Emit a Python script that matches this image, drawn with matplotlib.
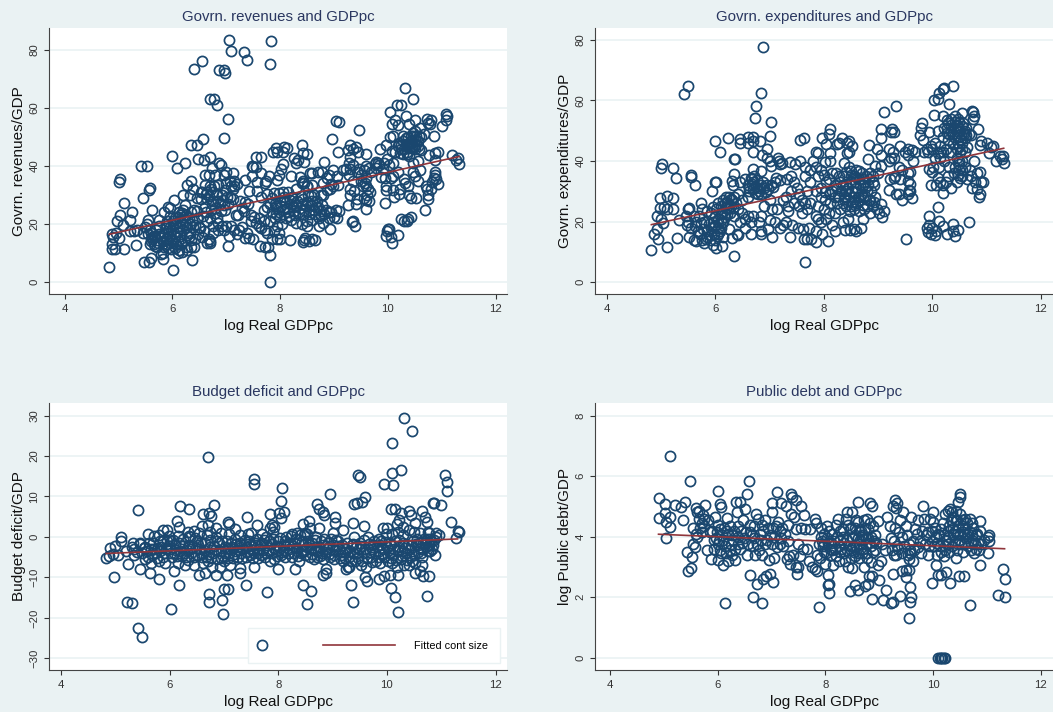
import matplotlib
matplotlib.use('Agg')
import matplotlib.pyplot as plt
from matplotlib.legend_handler import HandlerLine2D
from matplotlib.lines import Line2D

plt.rcParams['font.family'] = ['Liberation Sans', 'DejaVu Sans']

# values, (log gdp, y)
revenue_points = [
    (7.05,83.4),(7.83,83.2),(7.09,79.6),(7.33,79.4),(7.39,76.5),(6.55,76.2),(6.41,73.5),(7.81,75.1),(6.87,73),(6.96,73.1),(6.98,72),
    (6.69,63),(6.78,63),(6.83,61),(7.03,56.4),(6.95,49.6),(6.56,49.5),(6.35,47.3),(6.46,47.4),(6.0,43.6),(6.47,42.6),(6.59,42),(6.69,43.2),
    (6.23,41),(6.09,39.2),(5.41,40),(5.53,40.1),(5.02,35.5),(5.01,34.6),(6.35,34.8),(6.28,33.4),(5.58,32.4),(5.57,31.7),(5.45,29),(5.11,27.4),
    (5.25,24.3),(5.63,24.8),(5.22,21.5),(5.02,23.1),(4.97,21),(5.08,19.7),(4.83,5.2),(4.87,13.2),(4.87,11.3),(4.94,11.5),(5.11,11.3),(5.33,12.8),
    (5.48,7.1),(5.56,6.9),(5.6,8.4),(5.82,7.9),(6.01,4.3),(6.36,7.6),(7.81,0),(7.81,9.2),(7.63,12.5),(7.72,12.2),(7.78,12),(7.03,12.3),(8.19,14.4),
    (4.9,15.5),(4.95,17),(5.0,15.3),(4.87,16.5),
    (10.32,66.8),(10.47,63.1),(10.25,61.2),(10.16,61),(10.04,58.6),(10.14,56),(10.07,54.6),(10.33,57.2),(10.5,56),(10.4,54.6),(10.18,54),(10.6,53),
    (10.5,52),(10.73,56.4),(10.8,56),(10.75,55),(10.78,54.5),(11.08,57.8),(11.1,57.3),(11.08,56),(11.0,53.7),(10.85,50.5),(10.67,51),(10.62,50),
    (10.09,50.2),(10.03,50.1),(10.28,50.5),(10.46,50.2),(10.55,48.6),(10.5,49),(10.42,48.5),(10.38,50),(10.34,47.6),(10.3,46),(10.2,48),(10.18,47),
    (10.13,45),(10.22,44.5),(10.28,44),(10.35,45),(10.44,46.3),(10.58,46),(10.48,46.5),(10.52,47.5),(10.62,45.7),(10.77,43.7),(10.87,44.5),(10.93,45),
    (11.18,43.7),(11.3,42.8),(11.27,42),(11.32,40.6),(10.87,42),(10.46,41),(10.56,41.8),(9.97,47.2),(9.86,46),(10.07,45.2),(9.99,42.5),(10.02,40.2),
    (9.9,39),(9.78,41.5),(9.82,41.2),(9.76,40.8),(9.87,36.3),(10.1,41),(10.18,38),(10.1,36.5),(10.05,36),(9.95,35.8),(9.97,33),(9.96,31.6),(9.95,27.4),
    (10.1,31.8),(10.12,29.3),(10.2,30.5),(10.22,32),(10.32,34),(10.3,35.5),(10.38,33),(10.4,30),(10.42,29),(10.52,28.9),(10.47,38),(10.5,36.5),(10.55,35),
    (10.6,38.5),(10.7,33),(10.73,32),(10.75,30),(10.74,28.6),(10.8,32),(10.82,34.5),(10.87,37),(10.88,38),(10.9,35.5),(10.93,33.8),(10.85,36),(10.68,24.8),
    (10.24,21.8),(10.3,21),(10.35,21),(10.38,21.8),(10.42,22.5),(9.97,15.8),(9.99,17.5),(10.0,18.3),(10.02,18.2),(10.05,15.5),(10.07,13.6),(10.19,16.3),
    (9.07,44.7),(9.04,55.6),(9.1,55.2),(8.96,49.5),(9.47,52.6),(9.6,44.2),(9.3,47.4),(9.4,46.5),(9.25,45.6),(9.35,46),(9.45,45),(9.3,43),(9.27,41),(9.23,39),
    (9.17,38.5),(9.28,37),(9.35,35),(9.3,32),(9.37,31.5),(9.3,30.2),(9.26,26.6),(9.35,21),(9.33,20.8),(9.39,19.4),(9.55,29),(9.6,25.2),(9.6,28.3),(9.65,28),
    (9.63,32),(9.6,33),(9.57,34),(9.66,31),(9.6,36),(9.55,38.5),(9.65,39.5),(9.5,37),(9.47,39),(9.6,40),(9.43,28.5),(9.4,27),(9.1,24.5),(9.0,22.5),(8.93,18.3),
    (8.95,24),(9.04,24.8),(9.06,22),(8.9,37),(8.98,38.8),(9.05,36.5),(9.08,33.5),(8.98,33),(8.93,32),(8.8,30),(8.82,41.5),(8.7,38),(8.78,38),(8.87,36),(8.8,34),
    (8.75,24.5),(8.85,25),(8.9,22),(8.9,24),(8.8,20.5),(8.72,19.5),(8.6,37.6),(8.55,37.5),(8.5,33),(8.62,30),(8.67,26),
    (8.4,47.3),(8.42,44.6),(8.5,44.2),(8.45,41.4),(8.08,46.5),(8.12,46.4),(8.05,45),(7.93,46.1),(7.87,45),(7.95,44.7),(8.25,42.7),(8.3,41),(8.33,42.2),(8.05,40.6),
    (8.02,39),(7.98,37),(7.95,35.2),(8.2,36.5),(8.37,36.3),(8.42,35),(8.45,34.3),(8.4,34),(8.5,33),(8.3,32),(8.15,31),(8.05,31),(7.97,30.8),(7.88,30.6),(7.85,29),
    (8.0,28),(8.1,27.5),(8.2,27),(8.3,26.5),(8.4,27),(8.5,27.5),(8.6,28),(8.55,25),(8.45,25),(8.35,24.3),(8.25,24.5),(8.15,24),(8.05,25),(7.95,25.5),(7.85,24),
    (7.9,22),(8.0,22.5),(8.1,22),(8.2,21.5),(8.3,20.5),(8.4,20),(8.5,21),(8.5,19.2),(8.6,21.5),(8.65,23.5),(8.75,23),(8.7,26),(8.75,30),(8.6,33.5),(7.95,19.5),
    (8.03,20),(7.98,17),(7.88,17.5),(7.85,14.7),(7.95,14.8),(8.0,15),(8.42,13.7),(8.47,15.2),(8.53,14),(8.6,14.8),(8.65,14.4),(8.45,14.5),
    (7.56,43),(7.64,43.3),(7.47,40),(7.5,39.7),(7.55,39.7),(7.35,35.3),(7.47,36.5),(7.57,34.5),(7.65,37.5),(7.8,36.5),(7.73,35),(7.72,34),(7.43,31.5),(7.57,31.4),
    (7.65,29.5),(7.75,30.5),(7.35,27.5),(7.25,28),(7.4,27),(7.3,25.5),(7.33,24.5),(7.22,23),(7.45,23),(7.52,22.5),(7.6,22),(7.55,20.5),(7.45,21),(7.3,19),(7.23,18),
    (7.38,17),(7.35,15.3),(7.42,15.3),(7.5,14.8),(7.6,19.5),(7.65,18.5),(7.72,18),(7.75,17),(7.7,21),(7.76,26),(7.7,25),(7.82,21),(7.82,27),(7.9,27),
    (6.87,41),(6.9,40.3),(6.73,39.5),(7.0,38),(6.95,37),(6.8,36.8),(6.68,37),(6.6,37),(7.13,37.5),(7.15,35),(7.2,33.8),(7.15,33),(7.07,35),(7.0,34),(6.85,33.5),
    (6.78,33),(6.7,33),(6.65,31),(6.55,31),(6.62,30.5),(6.75,31),(6.82,30.5),(6.92,30),(7.02,29.5),(7.07,29.5),(7.13,28.5),(7.03,27),(6.95,26.5),(6.85,28),(6.75,28),
    (6.65,28.5),(6.53,28.5),(6.6,26),(6.72,25),(6.8,25.5),(6.9,24.5),(6.97,25),(6.82,22),(6.7,22),(6.65,21),(6.75,19.5),(6.85,20.5),(6.92,19.5),(7.0,19.5),(7.08,19.3),
    (7.15,18),(7.2,16.5),(7.05,16),(6.95,17.8),(6.85,18),(6.75,17),(6.68,15),(6.65,13.5),(6.7,14),(6.7,13.5),(6.55,15.5),(6.58,17.7),(6.52,18.7),(7.18,23),
    (5.6,14),(5.62,15.5),(5.55,16.5),(5.58,18),(5.52,20),(5.55,21.5),(5.5,19),(5.45,17),(5.35,18),(5.28,17.5),(5.22,17.5),(5.65,13),(5.68,12.5),(5.72,14.5),(5.75,16.5),
    (5.7,18),(5.75,19.5),(5.75,21.3),(5.85,24),(5.92,26),(5.95,25.5),(6.03,28.4),(5.8,16),(5.82,14),(5.85,12),(5.82,10),(5.78,9.8),(5.88,15),(5.92,17),(5.95,19),
    (5.95,13.5),(5.98,11.5),(6.0,15),(6.03,17),(6.05,20),(6.05,22),(6.12,24),(6.15,23),(6.2,25),(6.23,26.5),(6.2,30),(6.33,30),(6.38,32),(6.1,14),(6.12,11),(6.1,10),
    (6.18,10.4),(6.25,12),(6.28,11),(6.35,12),(6.4,12),(6.35,14.5),(6.42,15),(6.15,16),(6.2,18),(6.25,20),(6.3,22),(6.35,24),(6.4,25),(6.45,24.5),(6.45,22),(6.38,19),
    (6.33,17),(6.3,15.5),(6.5,19),(6.47,16.5),(6.45,29),(6.53,31),(5.9,21),(5.65,16),(5.6,17),(5.72,12),(6.08,19),(6.15,21),(6.02,14),(6.07,13),(5.9,13),
    # thicker parts of the cloud
    (5.58,13.2),(5.63,14.8),(5.68,15.6),(5.73,13.4),(5.78,15.1),(5.84,16.8),(5.89,18.6),(5.93,15.8),(5.97,17.9),(6.01,19.6),(6.04,15.9),(6.09,17.2),(6.13,18.7),(6.17,20.3),(6.22,22.4),
    (6.11,22.6),(6.18,23.8),(6.25,23.1),(6.02,21.2),(5.96,22.7),(5.88,19.9),(6.27,18.9),(6.32,19.9),(6.37,21.4),(6.42,19.6),(6.28,16.4),(6.22,14.6),(6.16,13.3),(5.92,11.7),(6.05,11.9),
    (6.6,33.6),(6.68,29.6),(6.73,26.8),(6.8,23.7),(6.88,26.9),(6.93,28.2),(7.08,33.2),(7.12,32.1),(6.97,31.6),(6.72,32),(6.63,24.2),(6.57,22.9),
    (7.93,26.4),(7.98,24.1),(8.02,26.2),(8.07,28.3),(8.12,25.4),(8.17,22.9),(8.18,28.4),(8.23,25.8),(8.27,23.2),(8.32,28.1),(8.37,25.7),(8.42,23.5),(8.43,28.7),(8.48,26.2),(8.53,23.6),
    (8.57,26.6),(8.58,29.6),(8.63,24.8),(8.68,28.1),(8.52,30.1),(8.38,29.7),(8.22,29.2),(8.08,29.5),(7.92,23.4),(8.72,22.1),(8.82,23.4),(8.78,26.6),(8.87,31.7),(8.95,33.8),
    (10.25,47.2),(10.28,48.7),(10.33,49.6),(10.37,47.3),(10.4,46.2),(10.43,50.2),(10.45,48),(10.47,51.5),(10.5,45.8),(10.53,50.5),(10.56,47),(10.58,50.3),(10.36,44),(10.24,46),(10.4,43.5),
    (9.3,39),(9.35,40.5),(9.42,38),(9.5,35),(9.54,33),(9.62,30),(9.68,38),(9.78,39.5),(9.84,40.3),(9.92,41),
]

expenditure_points = [
    (6.88,77.5),(5.5,64.8),(5.42,62.2),(6.84,62.6),(6.75,58),(6.73,54.2),(7.03,53),(9.12,56.3),(9.33,58.1),(10.38,64.6),(10.22,64.2),(10.2,63.7),(10.13,62.3),(10.1,60.5),
    (10.04,60.2),(10.32,58.7),(10.04,55.2),(10.2,55),(9.82,52.6),(9.8,51),(9.78,48.5),(9.83,47),(9.05,50.5),(9.05,47.7),(9.26,50.6),(9.25,49.5),(9.3,49.6),(8.12,50.4),
    (8.1,49),(7.96,47.5),(7.64,47.6),(7.57,47),(8.05,45.6),(8.25,45.5),(8.28,45.8),(8.33,47.5),(8.43,46),(8.47,46.5),(8.52,45),(8.47,43),(8.43,42.6),(8.83,45.2),(8.98,44),
    (9.05,42),(8.82,40.6),(7.85,43),(7.9,42.8),(8.12,42.6),(6.0,46.5),(6.08,43),(6.23,47.5),(6.45,47.2),(6.6,48),(6.7,48),(6.45,46),(6.6,45.8),(6.7,46.6),(6.83,46.5),
    (7.0,48.2),(6.95,44),(6.7,43),(6.35,40.5),(6.37,40.7),(5.02,39),(5.0,37.7),(5.22,37.8),(5.28,34.5),(5.55,35.4),(5.55,34.8),(5.62,32),(6.0,33),(6.02,33),(5.93,30),
    (6.3,33.5),(6.35,35.7),(6.32,32),(6.87,42),(6.95,41),(7.0,40),(7.02,38.2),(7.15,41),(7.2,39),(7.18,40),(7.23,39.2),(6.7,37.3),(6.85,36.8),(7.12,34.5),(7.2,33.8),
    (7.1,33),(7.38,39.7),(7.47,39),(7.57,40),(7.8,40),(7.65,38),(7.75,37),(7.85,38),(7.95,37),(8.03,39.7),(8.12,40),(8.15,36),(8.23,36),(8.38,39.3),(8.47,38),(8.5,35.3),
    (4.82,10.7),(4.87,16),(4.92,17.5),(4.95,14.3),(5.1,11.5),(5.3,14.5),(4.92,21.7),(5.0,20.8),(5.03,19.4),(4.98,24.4),(4.98,27.7),(5.05,24.7),(5.1,24),(5.1,28.5),(5.22,27.8),
    (5.22,24.3),(5.33,20.5),(5.45,22),(5.5,24.3),(5.52,24.5),(6.35,8.5),(7.65,6.8),(9.52,14.1),
    (9.95,21.8),(9.95,19),(9.9,18),(9.92,16.5),(9.97,16),(10,18),(10.05,15.5),(10.07,17),(10.1,24.7),(10.12,20.3),(10.2,18.5),(10.27,16),(10.38,16.8),(10.38,19.3),(10.42,15.3),
    (10.47,17.3),(10.68,19.9),(9.97,32.2),(10.85,50.5),(10.73,56.5),(10.75,56.2),(10.77,55),(10.75,54),(10.55,56),(10.42,55),(10.5,53),(10.48,54),(10.35,54),(10.28,53.5),
    (10.55,51.5),(10.62,51),(10.68,49),(10.72,48.5),(10.9,46.5),(10.88,45.2),(11.02,46),(11.12,45),(11.08,44.5),(11.05,42.5),(11.3,41.5),(11.25,41.8),(11.28,40.5),(11.17,40),
    (11.32,39.5),(10.78,40),(10.7,37),(10.88,36.5),(10.82,36),(10.72,35),(10.65,34),(10.8,33),(10.9,33),(10.93,33),(10.73,31),(10.82,30.8),(10.88,29.2),(10.87,28),(10.5,45),
    (10.6,43),(10.45,41),(10.35,43),(10.25,44),(10.15,45),(10.05,46),(10,44),(9.95,49.5),(9.93,43),(9.85,43),(10.1,50),(10.2,48),(10.3,47),(10.4,48),(10.5,48),(10.6,47.5),
    (10.35,50),(10.45,50),(10.55,40),(10.5,37),(10.55,35),(10.4,36),(10.45,33),(10.3,35),(10.35,31),(10.25,33),(10.2,32),(10.1,34.5),(10.15,33),(10.07,32),(10.2,29.5),(10.32,38),
    (10.22,40),(10.12,38),(10.02,38),(9.95,37.5),(10,36.5),(10.05,41),(10.15,41),(10.6,38),(10.5,40),(10.65,44.5),(10.42,51),(10.52,50),(10.58,49),(10.47,46),(10.38,45.5),
    (9.4,45),(9.55,44),(9.62,43.5),(9.68,43),(9.5,43),(9.55,42),(9.65,40),(9.2,44),(9.28,43),(9.25,41),(9.2,40),(9.3,41),(9.38,38),(9.45,37),(9.55,36),(9.6,36.5),(9.22,34),
    (9.3,34.5),(9.32,35),(9.4,34),(9.2,30.5),(9.33,29),(9.38,29),(9.45,27),(9.55,29),(9.6,30),(9.6,32.5),(9.55,33.5),(9.62,27.8),(9.57,30.5),(9.02,23),(9.08,21.5),(9.12,23.5),
    (9.05,25.8),(8.98,24),(9,36),(9.05,38.5),(8.95,38.5),(8.9,35),
    (8.2,28),(8.25,31),(8.3,33),(8.35,35),(8.4,30),(8.45,27),(8.5,25),(8.55,28),(8.6,31),(8.65,34),(8.7,36),(8.75,33),(8.8,30),(8.85,27),(8.9,25),(8.95,28),(8.6,37),(8.55,35),
    (8.5,33),(8.45,31),(8.4,28),(8.35,26),(8.3,24),(8.25,26),(8.62,26),(8.68,29),(8.72,32),(8.78,35),(8.82,32),(8.88,30),(8.92,32),(8.52,30),(8.58,33),(8.42,25),(8.48,23.5),
    (8.55,24),(8.65,23.5),(8.75,24),(8.8,25),(8.85,23),(8.72,21),(8.68,18),(8.6,17),(8.55,17.5),(8.48,17.3),(8.4,17.2),(8.35,20),(8.45,21),(8.2,17),(8.15,19),(8.08,13.6),(7.97,16),
    (7.85,13.4),(7.7,14.3),(7.77,14.3),(7.63,14.3),(7.95,20),(8.05,21),(8.1,23),(8.2,23),(8.0,24),(7.9,25),(8.03,27),(8.12,29),(7.95,31),(8.05,33),(7.9,35),(8.0,35.3),(8.1,34),
    (8.2,32),(7.85,30),(7.95,28),(7.75,33),(7.65,35),(7.7,30),(7.6,27),(7.55,29),(7.5,31),(7.45,33),(7.4,35),(7.33,34),(7.4,30),(7.3,28),(7.25,27),(7.35,25),(7.45,26),(7.55,25),
    (7.65,26),(7.75,26),(7.85,22),(7.7,24),(7.6,23),(7.35,23.5),(7.42,19),(7.3,20),(7.25,19),(7.2,18),(7.37,14.8),(7.52,18),(7.62,17.5),(7.72,18),(7.85,17),(7.9,21),
    (6.55,34),(6.65,34.5),(6.7,33),(6.75,31.5),(6.8,30),(6.85,32),(6.9,31),(6.95,32),(7.02,32),(7.07,31.5),(6.62,31),(6.72,35),(6.78,29),(6.6,28),(6.5,27),(6.45,33),(6.42,29),
    (6.35,28),(6.3,27),(6.25,28),(6.2,28),(6.15,27),(6.1,25),(6.05,26),(6.5,23),(6.55,21),(6.6,22),(6.7,22),(6.65,20),(6.8,20),(6.85,22),(6.9,25),(7,27),(7.05,24),(7.13,24),(7,20.5),
    (7.1,20),(7.05,15),(6.97,17.5),(6.85,15.8),(6.85,17),(6.65,15.8),(6.4,16),(6.42,15.5),(6.3,14.5),(6.25,17.5),(6.45,20),(6.55,18),(6.35,22),(6.27,23),(6.2,24.5),(6.12,23),
    (6.05,21),(6.0,22),(5.95,20),(5.92,18),(5.85,17),(5.8,20),(5.75,24),(5.73,26),(5.85,23.5),(5.7,22),(5.65,20),(5.6,22),(5.55,18),(5.5,20),(5.48,19),(5.52,15),(5.6,14),(5.65,13.5),
    (5.72,16),(5.75,14),(5.8,13),(5.85,15),(5.9,14),(5.95,12.3),(6.0,14),(6.02,11.2),(6.05,16),(6.1,18),(6.13,12),(6.15,15),(6.05,18),(6.0,19),(6.1,20.5),(6.15,20),(5.98,16),
    # thicker parts of the cloud
    (5.62,18.4),(5.68,16.8),(5.74,19.6),(5.78,17.5),(5.83,14.4),(5.88,19.2),(5.92,15.7),(5.97,18.2),(6.03,15.2),(6.08,17),(6.12,19.6),(6.18,21.6),(6.22,22.4),(6.28,25),(6.33,24.6),
    (6.18,26),(6.24,24),(6.1,22.4),(6.02,24),(5.92,22.8),(5.96,24.7),(6.22,26.4),(6.28,27.4),(6.38,26),(6.42,24.2),
    (6.62,30),(6.67,32.4),(6.7,30.6),(6.73,29.5),(6.77,33.6),(6.82,31),(6.84,29.2),(6.88,33),(6.93,29.8),(6.97,30.6),(6.67,34.2),(6.6,32.2),
    (8.27,28.6),(8.32,30),(8.37,27.5),(8.42,32.5),(8.47,29),(8.52,26.6),(8.57,29.8),(8.63,28),(8.67,32),(8.7,34),(8.73,28),(8.77,31),(8.83,34),(8.86,36),(8.9,33),(8.6,34.6),(8.65,36.6),
    (8.5,36.8),(8.42,36.4),(8.58,25.4),(8.65,27),(8.72,25.5),(8.77,28.6),(8.83,27),(8.93,26.6),(8.35,32),(8.28,35),(8.15,30),(8.12,26),(8.02,29.7),
    (10.27,51),(10.3,52.5),(10.35,52),(10.38,49),(10.42,53),(10.45,52),(10.48,51),(10.52,47),(10.55,46),(10.57,52.5),(10.6,50),(10.62,48.5),(10.32,49),(10.28,49.2),(10.22,51),(10.45,44),(10.55,44),(10.52,43),
    (10.42,38),(10.5,39),(10.56,37),(10.48,35.5),(10.52,34.4),(10.1,42.6),(10.15,43),(10.2,43),(9.97,45),(9.9,44),
]

deficit_points = [
    (10.32,29.4),(10.46,26.2),(10.1,23.3),(6.7,19.8),(10.25,16.5),(10.1,15.7),(9.47,15.2),(9.5,14.7),(11.07,15.3),(11.1,13.6),(11.1,11.3),(9.95,13),(10.12,12.8),(7.55,14.2),(7.56,13),
    (8.07,12.1),(8.96,10.6),(9.6,9.8),(8.05,8.9),(9.55,8.7),(9.45,8.5),(9.4,8.2),(8.72,8.1),(10.85,8.5),(10.87,8.4),(11.0,7.8),(6.2,7.7),(6.36,7),(6.82,7.9),(5.42,6.7),(8.75,6.8),(8.83,6.1),
    (8.85,5.3),(6.62,5.7),(6.73,6),(6.77,5.2),(7.85,5.7),(8.02,5.9),(8.1,6.1),(8.05,4.6),(7.42,5),(9.05,5),(9.05,3.5),(9.37,3.5),(10.08,7),(10.15,6.9),(10.25,5.8),(10.4,6.5),(10.45,5.3),
    (10.65,6.5),(10.7,5),(10.73,3.7),(11.18,3.7),(11.3,1.5),(11.33,1.3),(11.27,-0.2),(6.13,4),(6.17,2.5),(6.33,1.3),(6.45,1.4),(6.6,2.7),(6.7,3),(6.85,2.3),(7.07,3.8),(7.1,3.1),(7.2,1.9),
    (7.6,2.9),(7.85,2.3),(7.88,3),(7.93,2.4),(8.45,3.1),(8.57,4),(8.58,2.2),(8.75,2.2),(9,1),(9.2,1.7),(9.58,2.7),(9.92,2.3),(10,2.2),(10.18,3.3),(10.22,4.3),(10.3,2.5),(10.52,3.4),(10.75,1.2),
    (10.9,1),(5.1,0.1),(5.1,-1),(5.0,-2.2),(4.9,-2.7),(5.32,-1.4),(5.45,-1.7),(5.6,0.8),(5.8,0.4),(5.88,1.6),(5.95,1.6),
    (4.83,-5.3),(4.88,-4.7),(4.95,-4.2),(5.05,-4.5),(5.2,-3.5),(5.23,-6.8),(5.35,-3),(4.98,-9.8),(5.22,-16.1),(5.3,-16.3),(5.42,-22.4),(5.5,-24.7),(5.45,-8),(5.63,-9),(5.8,-10.5),(6.02,-17.7),
    (6.18,-11.9),(6.08,-8.4),(6.55,-9.5),(6.65,-8.8),(6.72,-14.2),(6.73,-16),(6.97,-15.7),(6.98,-19.1),(7,-12.9),(7.07,-12.8),(6.85,-9.3),(7.05,-9.3),(7.4,-11.9),(7.3,-8.8),(7.8,-13.6),(8,-7.9),
    (7.56,-7.5),(7.3,-7.7),(8.3,-7.9),(8.45,-11.8),(8.52,-16.6),(8.6,-13.4),(8.83,-9.3),(8.87,-9),(8.88,-7.9),(9.33,-12),(9.38,-16),(9.25,-8),(9.3,-7.5),(9.6,-9.8),(9.63,-11),(9.85,-10.5),(9.95,-9.7),
    (10.05,-9.3),(10.08,-12.6),(10.15,-14.9),(10.2,-18.6),(10.2,-9.5),(10.52,-8.8),(10.65,-7),(10.67,-9.7),(10.77,-9.7),(10.73,-14.6),(10.88,-4.5),(10.8,-3.5),(10.6,-8.5),
    (5.3,-2.5),(5.4,-3.8),(5.5,-4),(5.55,-2.5),(5.6,-5),(5.65,-3),(5.7,-1.5),(5.75,-4),(5.8,-6),(5.85,-2.5),(5.9,-4),(5.95,-1),(6.0,-3),(6.05,-5),(6.1,-2),(6.15,-6.5),(6.2,-3.5),(6.25,-0.5),(6.3,-5),(6.35,-2),
    (6.4,-4),(6.45,-7),(6.5,-1),(6.55,-3),(6.6,-5),(6.65,-1.5),(6.7,-6),(6.75,-2.5),(6.8,-4),(6.85,0),(6.9,-1.5),(6.95,-3.5),(7.0,-6),(7.05,-1),(7.1,-4),(7.15,-2.5),(7.2,-0.5),(7.25,-5),(7.3,-1.5),(7.35,-3),
    (7.4,-5),(7.45,0.8),(7.5,-2),(7.55,-4),(7.6,-0.5),(7.65,-3),(7.7,-1.5),(7.75,-5),(7.8,-2),(7.85,-6),(7.9,-0.5),(7.95,-3.5),(8,-1),(8.05,-4.5),(8.1,-2),(8.15,0),(8.2,-3),(8.25,-5),(8.3,-1.5),(8.35,-3.5),(8.4,0.5),
    (8.45,-2),(8.5,-4.5),(8.55,-1),(8.6,-3),(8.65,-5.5),(8.7,0),(8.75,-2.5),(8.8,-4),(8.85,-0.5),(8.9,-3),(8.95,-5),(9,-2),(9.05,-3.5),(9.1,-1),(9.15,-4.5),(9.2,-6),(9.25,-3),(9.3,-5),(9.35,-2),(9.4,0),(9.45,-4),
    (9.5,-1.5),(9.55,-6),(9.6,-3),(9.65,0),(9.7,-5),(9.75,-2),(9.8,-6),(9.85,-3.5),(9.9,-1),(9.95,-5),(10,-2.5),(10.05,-4),(10.1,-6.5),(10.15,-1),(10.2,-3.5),(10.25,-5.5),(10.3,-1.5),(10.35,-4),(10.4,-7),(10.45,-2),
    (10.5,-4.5),(10.55,-0.5),(10.6,-3),(10.65,-5),(10.7,-1.5),(10.75,-3.5),(10.8,-0.5),(10.85,-2),(10.9,0),(5.35,-4.5),(5.45,-1.5),(5.55,-5.5),(5.65,-6.5),(5.72,-3),(5.82,-1),(5.92,-6.5),(6.02,-1),(6.08,-4),(6.18,-1.5),
    (6.28,-7),(6.38,0),(6.42,-2.5),(6.52,-4.5),(6.62,-6.5),(6.68,0.5),(6.78,-7.5),(6.88,-5.5),(6.92,-7.5),(7.02,-2.5),(7.12,-7),(7.22,-3.5),(7.32,-4),(7.42,-2.5),(7.48,-4.5),(7.58,-2),(7.68,-4.5),(7.78,0),(7.88,-4),
    (7.92,-5.5),(8.02,-2.5),(8.12,-5),(8.22,-1.5),(8.28,-4),(8.38,-6),(8.42,-4),(8.48,0.5),(8.58,-5),(8.62,-1.5),(8.72,-5),(8.78,-1),(8.82,-5.5),(8.92,-1.5),(9.02,-5.5),(9.12,-3),(9.18,-2),(9.28,-7.5),(9.32,-3.5),
    (9.42,-6),(9.48,-3),(9.52,-7),(9.58,-4),(9.62,-7.5),(9.72,-3),(9.78,-4),(9.88,-6.5),(9.92,-3),(10.02,-6),(10.08,-2),(10.12,-4.5),(10.18,-7.5),(10.22,-2.5),(10.28,-3.5),(10.32,-7),(10.38,-2),(10.42,-5),(10.48,-1),
    (10.52,-6.5),(10.58,-2),(10.62,-4),(10.68,-0.5),(10.72,-2.5),(10.78,1),(10.82,-1),(10.95,0.5),
    (5.52,-2.8),(5.62,-1.5),(5.78,-2.8),(5.88,-5),(5.98,-2.2),(6.12,-3.2),(6.22,-4.8),(6.32,-3.2),(6.48,-2.8),(6.58,-1.2),(6.72,-4.2),(6.82,-2.2),(6.98,-4.8),(7.08,-2.8),(7.18,-4.2),(7.28,-2.2),(7.38,-0.8),(7.52,-3.2),
    (7.62,-5.2),(7.72,-3.2),(7.82,-3.2),(7.98,-2.2),(8.08,-3.2),(8.18,-1.8),(8.32,-2.8),(8.44,-3.2),(8.52,-2.5),(8.68,-3.2),(8.74,-3.8),(8.88,-2.2),(9.08,-2.2),(9.22,-3.8),(9.38,-1.8),(9.68,-3.8),(9.82,-2.2),(10.06,-1.5),
    # thicker parts of the band
    (5.58,-3.6),(5.68,-4.4),(5.77,-5.2),(5.83,-3.6),(5.87,-0.9),(5.93,-2.9),(6.03,-4.1),(6.07,-0.8),(6.14,-4.7),(6.24,-2.3),(6.27,-3.9),(6.34,-5.8),(6.37,-3.1),(6.44,-4.9),(6.47,-0.2),(6.53,-2.1),(6.57,-3.9),
    (6.63,-3.3),(6.67,-4.9),(6.74,-0.7),(6.77,-5.3),(6.84,-3.3),(6.87,-1),(6.94,-5.1),(6.97,-1),(7.03,-3.9),(7.07,-5.3),(7.13,-1.4),(7.17,-5.3),(7.23,-1.8),(7.27,-3.3),(7.33,-5.1),(7.37,-2),(7.43,-3.7),(7.47,-1),
    (7.53,-5.1),(7.57,-1.4),(7.63,-4),(7.67,-2.1),(7.73,-0.7),(7.77,-3.9),(7.83,-0.9),(7.87,-1.7),(7.93,-2.7),(7.97,-4.7),(8.03,-0.3),(8.07,-3.7),(8.13,-1.1),(8.17,-3.9),(8.23,0.2),(8.27,-2.3),(8.33,-0.6),(8.37,-4.7),
    (8.43,-1),(8.47,-3.6),(8.53,0.7),(8.57,-2.1),(8.63,-4.2),(8.67,-0.8),(8.73,-3.2),(8.77,-4.6),(8.83,-2.1),(8.87,-3.7),(8.93,-4.2),(8.97,-0.6),(9.03,-4.4),(9.07,-0.7),(9.13,-5.3),(9.17,-3.7),(9.23,-5.1),(9.27,-1.6),
    (9.33,-5.9),(9.37,-4.1),(9.43,-2.6),(9.47,-5.3),(9.53,-2.3),(9.57,-0.8),(9.63,-5.3),(9.67,-1.8),(9.73,-6.1),(9.77,-0.9),(9.83,-4.9),(9.87,-2.1),(9.93,-4.3),(9.97,-1.2),(10.03,-3.3),(10.07,-5.3),(10.13,-2.9),(10.17,-5.6),
    (10.23,-0.8),(10.27,-4.6),(10.33,-2.8),(10.37,-5.8),(10.43,-3.1),(10.47,-5.9),(10.53,-1.7),(10.57,-3.7),(10.63,-1.3),(10.67,-2.9),(10.73,-0.6),(10.77,-1.9),(10.83,-2.9),(10.87,-0.7),(10.4,1.7),(10.5,1.1),(10.6,0.9),(10.3,0.4),
    (10.2,1.2),(10.1,0.8),(9.98,0.6),(9.85,-0.5),(8.5,0.9),(8.35,0.9),(8.25,0.7),(7.9,1.1),(7.7,0.6),(7.5,0.9),(7.3,0.5),(7.1,0.7),(6.95,1),(6.75,1.2),(6.55,1),(6.35,0.3),(6.15,0.2),(5.98,0.3),(5.72,0.2),
]

debt_points = [
    (5.11,6.68),(5.49,5.83),(6.59,5.83),(6.0,5.5),(6.54,5.42),(7.11,5.48),(4.9,5.28),(5.02,5.07),(5.2,5.05),(5.32,4.98),(5.4,5.15),(5.77,5.05),(6.05,5.08),(6.07,4.97),(6.34,5.15),(6.42,5.15),(7.0,5.1),(7.17,5.1),
    (7.27,5.02),(7.37,5.42),(7.38,5.3),(7.45,5.2),(7.55,5.02),(8.6,5.13),(8.83,5.1),(8.87,5.0),(9.3,5.2),(9.33,5.1),(9.25,5.0),(9.32,4.95),(9.82,5),(10.5,5.4),(10.5,5.3),(10.47,5.15),
    (4.9,4.63),(5.02,4.78),(5.04,4.5),(5.12,4.65),(5.11,4.32),(5.04,3.97),(5.36,4.55),(5.43,3.5),(5.44,2.88),(5.5,2.95),(5.53,3.32),(5.57,3.65),(5.55,3.77),(5.55,4.3),(5.6,4.1),(5.62,4.0),(5.8,3.57),(5.88,3.27),
    (6.0,3.22),(6.1,3.05),(6.13,1.8),(6.2,3.2),(6.32,3.22),(6.6,2.73),(6.65,2.0),(6.73,2.45),(6.82,1.8),(6.85,2.6),(6.9,2.7),(6.97,2.78),(7.02,2.5),(7.47,2.75),(7.45,2.98),(7.5,3.0),(7.85,2.85),(7.88,1.68),(8.05,2.4),
    (8.07,2.43),(8.07,2.15),(8.05,2.72),(8.46,2.2),(8.55,2.4),(8.6,2.25),(8.73,2.38),(8.8,2.42),(8.82,2.7),(8.87,2.7),(8.87,1.95),(9.0,2.55),(9.07,1.9),(9.13,2.25),(9.22,1.82),(9.25,1.83),(9.38,2.03),(9.25,2.75),
    (9.42,2.88),(9.5,2.9),(9.55,2.9),(9.5,2.65),(9.57,2.33),(9.6,2),(9.57,1.85),(9.55,1.32),(9.98,2.48),(10.05,3.05),(10.1,2.72),(10.15,2.73),(10.25,2.82),(10.32,2.48),(10.48,2.7),(10.58,2.7),(10.68,1.73),(10.87,3.05),
    (11.2,2.07),(11.3,2.92),(11.33,2.6),(11.33,2),(11.03,3.45),
    (10.1,0),(10.13,0),(10.15,0),(10.17,0),(10.2,0),(10.22,0),
    (5.6,4.95),(5.62,4.8),(5.66,4.85),(5.72,4.7),(5.65,4.6),(5.7,4.45),(5.75,4.35),(5.82,4.55),(5.9,4.2),(5.95,4.65),(6.0,4.4),(6.05,4.25),(5.93,3.9),(6,3.75),(6.05,3.55),(6.1,3.9),(6.12,4.3),(6.18,4.62),(6.2,4.1),(6.25,3.75),
    (6.15,3.45),(6.27,3.4),(6.3,4.2),(6.35,4.8),(6.37,4),(6.42,3.6),(6.47,4.55),(6.5,4.9),(6.48,3.95),(6.55,3.4),(6.6,4.4),(6.65,3.7),(6.7,3.4),(6.72,4.75),(6.75,4.6),(6.78,4.1),(6.82,3.4),(6.88,4.55),(6.92,3.9),
    (6.95,3.22),(7,3.75),(7.02,4.3),(7.05,3.3),(7,4.83),(7.1,3.65),(7.12,4.5),(7.18,3.95),(7.2,4.3),(7.25,4.1),(7.3,3.85),(7.28,3.25),(7.3,4.4),(7.35,3.1),(7.37,4.75),(7.42,4.65),(7.45,4.25),(7.5,3.75),(7.52,3.35),
    (7.55,4.28),(7.6,4.7),(7.62,4.25),(7.65,3.6),(7.7,3.2),(7.72,4.25),(7.8,4.6),(7.83,4.45),(7.75,3.0),(7.8,2.92),(7.9,3.3),(7.95,3.7),(7.92,4.3),(7.97,4.1),(8,3.1),(8.03,4.35),(8.05,3.8),(8.1,3.4),(8.12,4.1),(8.15,3.05),
    (8.18,3.6),(8.2,4.4),(8.23,4.6),(8.25,3.2),(8.28,3.9),(8.32,4.25),(8.35,3.45),(8.38,4.6),(8.4,4.8),(8.42,3),(8.45,3.7),(8.48,4.3),(8.5,2.95),(8.5,4.8),(8.53,3.5),(8.57,4.55),(8.6,3.95),(8.63,3.3),(8.67,4.2),(8.7,3.6),
    (8.72,3),(8.75,3.45),(8.78,4.6),(8.8,4.25),(8.82,3.8),(8.85,3.15),(8.88,4.35),(8.92,4.05),(8.95,3.8),(8.98,4.52),(8.97,3.05),(9.03,3.2),(9.05,3.75),(9.1,3.55),(9.15,4.65),(9.2,4.35),(9.22,3.95),(9.27,3.4),(9.3,4.3),(9.33,3.7),
    (9.38,4.55),(9.42,4),(9.45,4.82),(9.5,4.35),(9.53,3.4),(9.55,3.75),(9.6,4.65),(9.62,3.2),(9.65,3.55),(9.7,4.1),(9.72,4.55),(9.78,3.45),(9.83,4.6),(9.87,4.05),(9.9,3.4),(9.95,4.6),(9.98,3.85),(10,4.8),(10.03,4.3),(10.07,3.4),
    (10.1,4.1),(10.13,3.7),(10.18,4.45),(10.2,3.35),(10.25,3.9),(10.22,4.75),(10.27,4.85),(10.32,4.9),(10.3,4.35),(10.35,3.7),(10.38,4.65),(10.4,4.2),(10.42,3.3),(10.45,4.55),(10.48,3.9),(10.5,4.75),(10.53,4.35),(10.55,3.5),
    (10.58,4.1),(10.6,4.6),(10.65,3.7),(10.68,4.6),(10.72,4.45),(10.75,3.85),(10.8,3.6),(10.82,4.1),(10.87,4.52),(10.88,4.2),(10.9,3.75),(10.95,3.9),(11.03,4),(11.05,3.85),(11.05,4.05),(10.77,3.45),(10.68,4.15),(10.38,4.3),(10.45,4.1),
    (9.98,4.2),(10.12,4.05),(8.4,3.9),(8.55,4.05),(8.62,3.75),(8.68,4.0),(8.35,3.8),(8.45,4.25),(8.08,3.6),(7.93,3.85),(6.28,3.9),(6.08,4.05),(5.97,3.95),(6.22,3.55),(6.38,4.35),(6.6,4.15),(6.68,3.95),(6.85,4.2),(7.15,4.2),
    (7.33,3.35),(7.4,3.4),(7.58,3.6),(7.85,3.4),(7.98,3.5),(8.27,3.5),(8.55,3.35),(8.65,3.6),(8.75,3.95),(8.85,3.7),(9.35,3.6),(9.55,3.25),(9.58,3.45),(9.75,3.85),(10.02,3.7),(10.22,3.55),(10.28,3.75),(10.47,3.75),(10.62,3.95),
    # thicker parts of the cloud
    (5.93,3.6),(5.98,4.15),(6.03,3.85),(6.07,3.45),(6.13,3.7),(6.17,4.2),(6.23,4.35),(6.27,4.05),(6.33,3.6),(6.37,3.75),(6.43,4.2),(6.45,3.8),(6.52,4.15),(6.57,3.75),(6.63,4.05),(6.67,4.35),(6.73,3.75),(6.77,3.55),(6.8,3.9),(6.83,4.4),
    (6.87,3.75),(6.93,4.3),(6.97,4.05),(7.05,4),(7.08,4.35),(7.15,3.75),(7.22,3.7),(5.7,4.15),(5.75,4.6),(5.67,4.3),(5.85,4.15),
    (7.88,3.75),(7.92,4),(7.97,3.75),(8.01,3.45),(8.03,3.95),(8.07,4.2),(8.1,3.8),(8.13,3.55),(8.17,3.85),(8.2,3.35),(8.22,4),(8.25,3.7),(8.27,4.2),(8.3,3.6),(8.33,4),(8.37,3.2),(8.4,3.55),(8.43,4.4),(8.47,3.3),(8.5,3.95),(8.52,3.7),
    (8.55,4.3),(8.57,3.65),(8.6,3.45),(8.63,4.2),(8.65,3.9),(8.68,3.45),(8.7,4.05),(8.73,4.3),(8.75,3.75),(8.78,3.3),(8.8,3.95),(8.83,4.45),(8.85,4.0),(8.88,3.5),(8.9,3.85),(8.93,3.55),(8.6,4.5),(8.72,4.55),(8.48,3.55),
    (9.23,3.55),(9.28,3.85),(9.32,3.4),(9.37,4.15),(9.43,3.45),(9.47,3.7),(9.52,4.05),(9.57,3.55),(9.62,3.85),(9.67,4.25),(9.73,3.65),(9.8,4.2),(9.85,3.75),(9.9,4.15),(9.93,3.7),
    (10.0,4.5),(10.05,4),(10.08,3.8),(10.15,4.25),(10.2,4.05),(10.23,3.7),(10.27,4.2),(10.3,4),(10.33,4.55),(10.35,4.8),(10.37,4.1),(10.4,3.85),(10.42,4.55),(10.43,4.85),(10.45,3.55),(10.47,4.35),(10.5,4.1),(10.52,3.75),
    (10.55,4.55),(10.55,4.15),(10.58,3.75),(10.6,4.3),(10.63,4.45),(10.65,4.1),(10.7,3.8),(10.72,4.05),(10.75,4.3),(10.78,3.75),(10.8,4.05),(10.83,3.8),(10.85,3.55),(10.7,3.55),(10.3,3.5),(10.15,3.5),
]

revenue_fit_x = [4.83, 11.32]
revenue_fit_y = [16.5, 43.3]
expenditure_fit_x = [4.82, 11.32]
expenditure_fit_y = [19.0, 44.2]
deficit_fit_x = [4.83, 11.3]
deficit_fit_y = [-4.1, -0.5]
debt_fit_x = [4.9, 11.33]
debt_fit_y = [4.08, 3.6]

x_ticks = [4, 6, 8, 10, 12]

panels = [
    dict(points=revenue_points, fit_x=revenue_fit_x, fit_y=revenue_fit_y, title='Govrn. revenues and GDPpc', ylabel='Govrn. revenues/GDP',
         yticks=[0, 20, 40, 60, 80], xlim=(3.71, 12.21), ylim=(-4.1, 87.6), box=(49, 507, 28, 294)),
    dict(points=expenditure_points, fit_x=expenditure_fit_x, fit_y=expenditure_fit_y, title='Govrn. expenditures and GDPpc', ylabel='Govrn. expenditures/GDP',
         yticks=[0, 20, 40, 60, 80], xlim=(3.78, 12.23), ylim=(-3.9, 83.9), box=(595, 1053, 28, 294)),
    dict(points=deficit_points, fit_x=deficit_fit_x, fit_y=deficit_fit_y, title='Budget deficit and GDPpc', ylabel='Budget deficit/GDP',
         yticks=[-30, -20, -10, 0, 10, 20, 30], xlim=(3.78, 12.21), ylim=(-32.9, 33.1), box=(49, 507, 403, 670)),
    dict(points=debt_points, fit_x=debt_fit_x, fit_y=debt_fit_y, title='Public debt and GDPpc', ylabel='log Public debt/GDP',
         yticks=[0, 2, 4, 6, 8], xlim=(3.72, 12.23), ylim=(-0.41, 8.42), box=(595, 1053, 403, 670)),
]

navy = '#1a476f'
maroon = '#90353b'
bg = '#eaf2f3'
W, H = 1053, 712

fig = plt.figure(figsize=(W / 100, H / 100), dpi=100, facecolor=bg)

axes = []
for p in panels:
    left, right, top, bottom = p['box']
    ax = fig.add_axes([left / W, 1 - bottom / H, (right - left) / W, (bottom - top) / H])
    axes.append(ax)
    xs = [pt[0] for pt in p['points']]
    ys = [pt[1] for pt in p['points']]
    ax.plot(xs, ys, linestyle='none', marker='o', ms=7.3, mfc='none', mec=navy, mew=1.25, zorder=3)
    ax.plot(p['fit_x'], p['fit_y'], color=maroon, lw=1.2, zorder=4)
    ax.set_xlim(p['xlim'])
    ax.set_ylim(p['ylim'])
    ax.set_xticks(x_ticks)
    ax.set_yticks(p['yticks'])
    ax.grid(axis='y', color=bg, lw=1.2, zorder=0)
    ax.set_axisbelow(True)
    ax.spines['top'].set_visible(False)
    ax.spines['right'].set_visible(False)
    ax.spines['left'].set_color('#444444')
    ax.spines['bottom'].set_color('#444444')
    ax.tick_params(axis='both', colors='#333333', labelsize=8.2, length=3.5, width=0.8)
    plt.setp(ax.get_yticklabels(), rotation=90, va='center')
    ax.set_title(p['title'], fontsize=10.8, color='#2a3760', pad=5)
    ax.set_xlabel('log Real GDPpc', fontsize=11, color='#111111', labelpad=3.5)
    ax.set_ylabel(p['ylabel'], fontsize=11, color='#111111', labelpad=2.5)

marker_key = Line2D([], [], linestyle='none', marker='o', ms=7.3, mfc='none', mec=navy, mew=1.25)
line_key = Line2D([], [], color=maroon, lw=1.2)
leg = axes[2].legend([marker_key, line_key], ['', 'Fitted cont size'], ncols=2, loc='lower right',
                     bbox_to_anchor=(0.985, 0.026), borderaxespad=0, fontsize=7.8, handlelength=6.65,
                     handletextpad=1.7, columnspacing=-2.6, borderpad=1.15, fancybox=False, framealpha=1,
                     handler_map={marker_key: HandlerLine2D(numpoints=1, xpad=-6.5)})
leg.get_frame().set_edgecolor(bg)
leg.get_frame().set_linewidth(1.0)
leg.set_zorder(5)

fig.savefig('out.png', dpi=100, facecolor=bg)
